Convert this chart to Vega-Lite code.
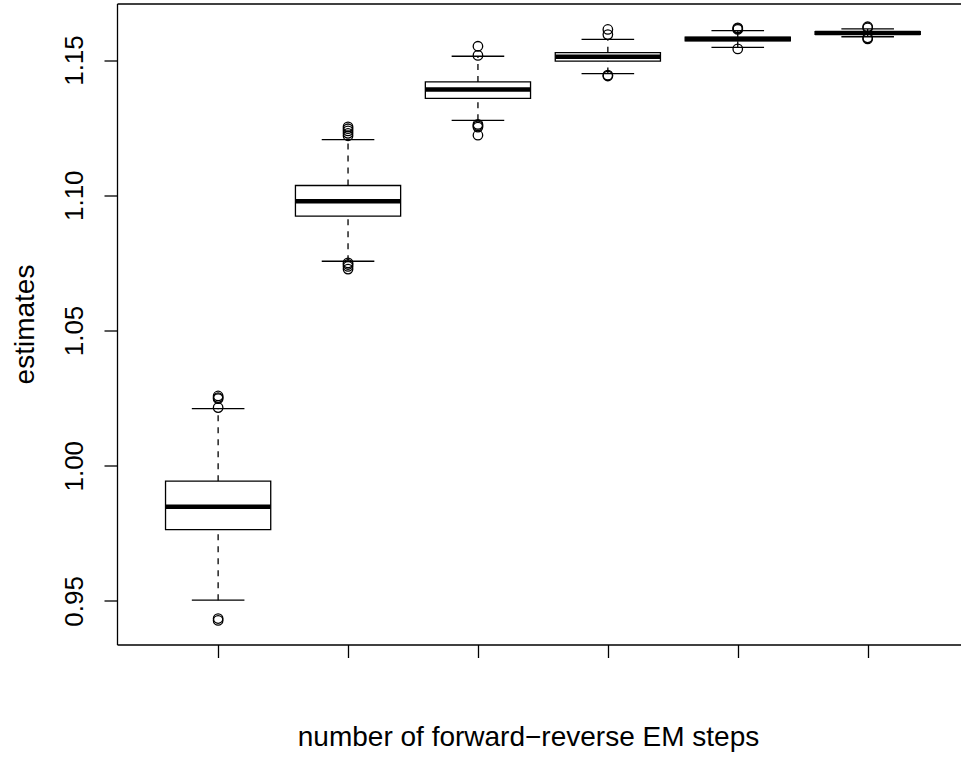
{
  "$schema": "https://vega.github.io/schema/vega-lite/v6.json",
  "width": 844,
  "height": 641,
  "autosize": {"type": "none"},
  "padding": {"left": 117, "top": 3.5, "right": 0, "bottom": 113.5},
  "background": "white",
  "datasets": {
    "stats": [
      {"step": 1, "lower": 0.9503, "q1": 0.9764, "median": 0.9848, "q3": 0.9943, "upper": 1.0211},
      {"step": 2, "lower": 1.0756, "q1": 1.0923, "median": 1.0978, "q3": 1.1036, "upper": 1.1206},
      {"step": 3, "lower": 1.1277, "q1": 1.1358, "median": 1.1391, "q3": 1.1419, "upper": 1.1514},
      {"step": 4, "lower": 1.1450, "q1": 1.1496, "median": 1.1512, "q3": 1.1527, "upper": 1.1576},
      {"step": 5, "lower": 1.1547, "q1": 1.1571, "median": 1.1578, "q3": 1.1585, "upper": 1.1609},
      {"step": 6, "lower": 1.1586, "q1": 1.1595, "median": 1.1600, "q3": 1.1605, "upper": 1.1615}
    ],
    "outliers": [
      {"step": 1, "value": 1.0258}, {"step": 1, "value": 1.0252}, {"step": 1, "value": 1.0248}, {"step": 1, "value": 1.0215},
      {"step": 1, "value": 0.9435}, {"step": 1, "value": 0.9428},
      {"step": 2, "value": 1.1253}, {"step": 2, "value": 1.1246}, {"step": 2, "value": 1.1238}, {"step": 2, "value": 1.1229}, {"step": 2, "value": 1.1220},
      {"step": 2, "value": 1.0750}, {"step": 2, "value": 1.0744}, {"step": 2, "value": 1.0737}, {"step": 2, "value": 1.0727},
      {"step": 3, "value": 1.1551}, {"step": 3, "value": 1.1517},
      {"step": 3, "value": 1.1262}, {"step": 3, "value": 1.1257}, {"step": 3, "value": 1.1252}, {"step": 3, "value": 1.1222},
      {"step": 4, "value": 1.1613}, {"step": 4, "value": 1.1594},
      {"step": 4, "value": 1.1444}, {"step": 4, "value": 1.1441},
      {"step": 5, "value": 1.1619}, {"step": 5, "value": 1.1616}, {"step": 5, "value": 1.1613},
      {"step": 5, "value": 1.1541},
      {"step": 6, "value": 1.1623}, {"step": 6, "value": 1.1619},
      {"step": 6, "value": 1.1582}, {"step": 6, "value": 1.1578}
    ]
  },
  "resolve": {"axis": {"x": "independent"}},
  "layer": [
    {
      "data": {"name": "stats"},
      "mark": {"type": "rule", "color": "black", "strokeWidth": 1.3, "strokeDash": [6, 6]},
      "encoding": {
        "x": {"field": "step", "type": "quantitative",
          "scale": {"domain": [0.26, 6.68], "nice": false, "zero": false},
          "axis": {"orient": "bottom", "values": [1, 2, 3, 4, 5, 6], "labels": false, "tickSize": 13,
            "title": "number of forward−reverse EM steps", "titleX": 411, "titleY": 100.5,
            "titleBaseline": "alphabetic", "titleAlign": "center"}},
        "y": {"field": "q3", "type": "quantitative",
          "scale": {"domain": [0.9339, 1.1709], "nice": false, "zero": false},
          "axis": {"values": [0.95, 1.0, 1.05, 1.1, 1.15], "format": ".2f", "labelAngle": -90,
            "labelAlign": "center", "labelBaseline": "alphabetic", "tickSize": 13, "labelPadding": 22,
            "labelOverlap": false, "labelBound": false, "labelFlush": false,
            "title": "estimates", "titleAngle": -90, "titleX": -84, "titleY": 320.5,
            "titleBaseline": "alphabetic", "titleAlign": "center"}},
        "y2": {"field": "upper"}
      }
    },
    {
      "data": {"name": "stats"},
      "mark": {"type": "rule", "color": "black", "strokeWidth": 1.3, "strokeDash": [6, 6]},
      "encoding": {
        "x": {"field": "step", "type": "quantitative", "axis": null},
        "y": {"field": "lower", "type": "quantitative", "title": "estimates"},
        "y2": {"field": "q1"}
      }
    },
    {
      "data": {"name": "stats"},
      "mark": {"type": "tick", "orient": "horizontal", "color": "black", "size": 52.6, "thickness": 1.3, "opacity": 1},
      "encoding": {
        "x": {"field": "step", "type": "quantitative", "axis": null},
        "y": {"field": "upper", "type": "quantitative", "title": "estimates"}
      }
    },
    {
      "data": {"name": "stats"},
      "mark": {"type": "tick", "orient": "horizontal", "color": "black", "size": 52.6, "thickness": 1.3, "opacity": 1},
      "encoding": {
        "x": {"field": "step", "type": "quantitative", "axis": null},
        "y": {"field": "lower", "type": "quantitative", "title": "estimates"}
      }
    },
    {
      "data": {"name": "stats"},
      "mark": {"type": "bar", "width": 105.2, "fill": "white", "stroke": "black", "strokeWidth": 1.3},
      "encoding": {
        "x": {"field": "step", "type": "quantitative", "axis": null},
        "y": {"field": "q1", "type": "quantitative", "title": "estimates"},
        "y2": {"field": "q3"}
      }
    },
    {
      "data": {"name": "stats"},
      "mark": {"type": "tick", "orient": "horizontal", "color": "black", "size": 105.2, "thickness": 4.5, "opacity": 1},
      "encoding": {
        "x": {"field": "step", "type": "quantitative", "axis": null},
        "y": {"field": "median", "type": "quantitative", "title": "estimates"}
      }
    },
    {
      "data": {"name": "outliers"},
      "mark": {"type": "point", "shape": "circle", "filled": false, "stroke": "black", "strokeWidth": 1.3, "size": 90, "opacity": 1},
      "encoding": {
        "x": {"field": "step", "type": "quantitative",
          "axis": {"orient": "top", "ticks": false, "labels": false, "title": null, "domain": true}},
        "y": {"field": "value", "type": "quantitative", "title": "estimates"}
      }
    }
  ],
  "config": {
    "view": {"stroke": null},
    "axis": {
      "grid": false,
      "domainColor": "black", "domainWidth": 1.3,
      "tickColor": "black", "tickWidth": 1.3,
      "labelColor": "black", "titleColor": "black",
      "labelFont": "Liberation Sans", "titleFont": "Liberation Sans",
      "labelFontSize": 26, "titleFontSize": 28, "titleFontWeight": "normal"
    }
  }
}
